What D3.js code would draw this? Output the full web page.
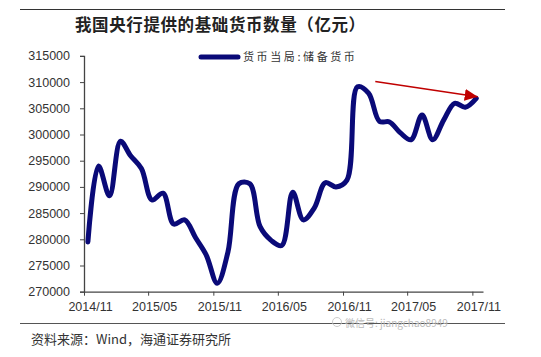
<!DOCTYPE html>
<html><head><meta charset="utf-8">
<script src="https://cdn.jsdelivr.net/npm/d3@7"></script>
<style>
html,body{margin:0;padding:0;background:#fff;}
svg{display:block;}
</style>
</head><body>
<svg id="chart" width="541" height="357"></svg>
<script>
// ---- data (monthly, 亿元) ----
const months = ["2014-11","2014-12","2015-01","2015-02","2015-03","2015-04","2015-05","2015-06","2015-07","2015-08","2015-09","2015-10","2015-11","2015-12","2016-01","2016-02","2016-03","2016-04","2016-05","2016-06","2016-07","2016-08","2016-09","2016-10","2016-11","2016-12","2017-01","2017-02","2017-03","2017-04","2017-05","2017-06","2017-07","2017-08","2017-09","2017-10","2017-11"];
const reserveMoney = [279500,294000,288300,298700,296000,293500,287500,288800,282900,283700,280300,277000,271600,277500,290600,290600,282400,279800,278800,289000,283700,286000,290800,290000,291300,309100,307900,302500,302400,300300,299000,303700,299000,302750,305950,305200,306900];
const yTicks = [270000,275000,280000,285000,290000,295000,300000,305000,310000,315000];
const xTickLabels = ["2014/11","2015/05","2015/11","2016/05","2016/11","2017/05","2017/11"];
const arrowDates = ["2017-01-31","2017-11-16"];
const arrowValues = [310100,307200];
const seriesName = "货币当局:储备货币";
const title = "我国央行提供的基础货币数量（亿元）";
const source = "资料来源：Wind，海通证券研究所";
const watermark = "微信号: jiangchao8949";

const svg = d3.select("#chart");
const parseM = d3.timeParse("%Y-%m");
const parseD = d3.timeParse("%Y-%m-%d");
const dataDate = s => { const d = parseM(s); d.setDate(12); return d; };
const data = months.map((m,i)=>({date:dataDate(m), value:reserveMoney[i]}));

const x = d3.scaleTime().domain([parseM("2014-11"), parseM("2017-12")]).range([84, 483]);
const y = d3.scaleLinear().domain([270000, 315000]).range([291.7, 55.9]);

// frame lines
svg.append("line").attr("x1",20).attr("x2",505).attr("y1",9.5).attr("y2",9.5).attr("stroke","#333").attr("stroke-width",1.2);
svg.append("line").attr("x1",20).attr("x2",505).attr("y1",323.5).attr("y2",323.5).attr("stroke","#555").attr("stroke-width",1);

// title
svg.append("text").attr("x",75).attr("y",31).text(title)
  .attr("font-family","'Noto Sans CJK SC'").attr("font-weight","bold").attr("font-size",16.5)
  .attr("letter-spacing",0.6).attr("fill","#222");

// y axis
const yAxis = d3.axisLeft(y).tickValues(yTicks).tickFormat(d3.format("d")).tickSize(4).tickPadding(10);
const gy = svg.append("g").attr("transform","translate(84,0)").call(yAxis);
gy.selectAll("text").attr("font-family","'Liberation Sans',Arial,sans-serif").attr("font-size",12.5).attr("fill","#333");
gy.selectAll("line").attr("stroke","#444");
gy.select(".domain").attr("stroke","#444").attr("stroke-width",1.3);

// x axis
const xTickDates = xTickLabels.map(s=>parseM(s.replace("/","-")));
const xAxis = d3.axisBottom(x).tickValues(xTickDates).tickFormat((d,i)=>xTickLabels[i]).tickSize(4).tickPadding(6).tickSizeOuter(0);
const gx = svg.append("g").attr("transform","translate(0,291.7)").call(xAxis);
gx.selectAll("text").attr("font-family","'Liberation Sans',Arial,sans-serif").attr("font-size",12.5).attr("fill","#333").attr("dx",6);
gx.selectAll("line").attr("stroke","#444");
gx.select(".domain").attr("stroke","#444").attr("stroke-width",1.3);

// series line
const line = d3.line().x(d=>x(d.date)).y(d=>y(d.value)).curve(d3.curveCatmullRom.alpha(0.5));
svg.append("path").datum(data).attr("d",line).attr("fill","none")
  .attr("stroke","#0a0a78").attr("stroke-width",5).attr("stroke-linejoin","round").attr("stroke-linecap","round");

// legend
svg.append("line").attr("x1",201).attr("x2",238).attr("y1",57).attr("y2",57)
  .attr("stroke","#0a0a78").attr("stroke-width",5).attr("stroke-linecap","round");
svg.append("text").attr("x",243).attr("y",61).text(seriesName)
  .attr("font-family","'Noto Sans CJK SC'").attr("font-size",11).attr("letter-spacing",2.6).attr("fill","#333");

// red arrow annotation
const defs = svg.append("defs");
defs.append("marker").attr("id","arrowhead").attr("markerUnits","userSpaceOnUse")
  .attr("markerWidth",14).attr("markerHeight",12).attr("refX",13).attr("refY",6).attr("orient","auto")
  .append("path").attr("d","M0,0 L13,6 L0,12 Z").attr("fill","#c00000");
svg.append("line")
  .attr("x1",x(parseD(arrowDates[0]))).attr("y1",y(arrowValues[0]))
  .attr("x2",x(parseD(arrowDates[1]))).attr("y2",y(arrowValues[1]))
  .attr("stroke","#c00000").attr("stroke-width",1.5).attr("marker-end","url(#arrowhead)");

// footer
svg.append("text").attr("x",31).attr("y",344).text(source)
  .attr("font-family","'Noto Sans CJK SC'").attr("font-size",13).attr("fill","#333");
// watermark
svg.append("circle").attr("cx",337).attr("cy",322).attr("r",4.5).attr("fill","none").attr("stroke","#ccc").attr("stroke-width",1);
svg.append("text").attr("x",345).attr("y",327).text(watermark)
  .attr("font-family","'Noto Sans CJK SC'").attr("font-size",10).attr("fill","#bbb");
</script>
</body></html>
